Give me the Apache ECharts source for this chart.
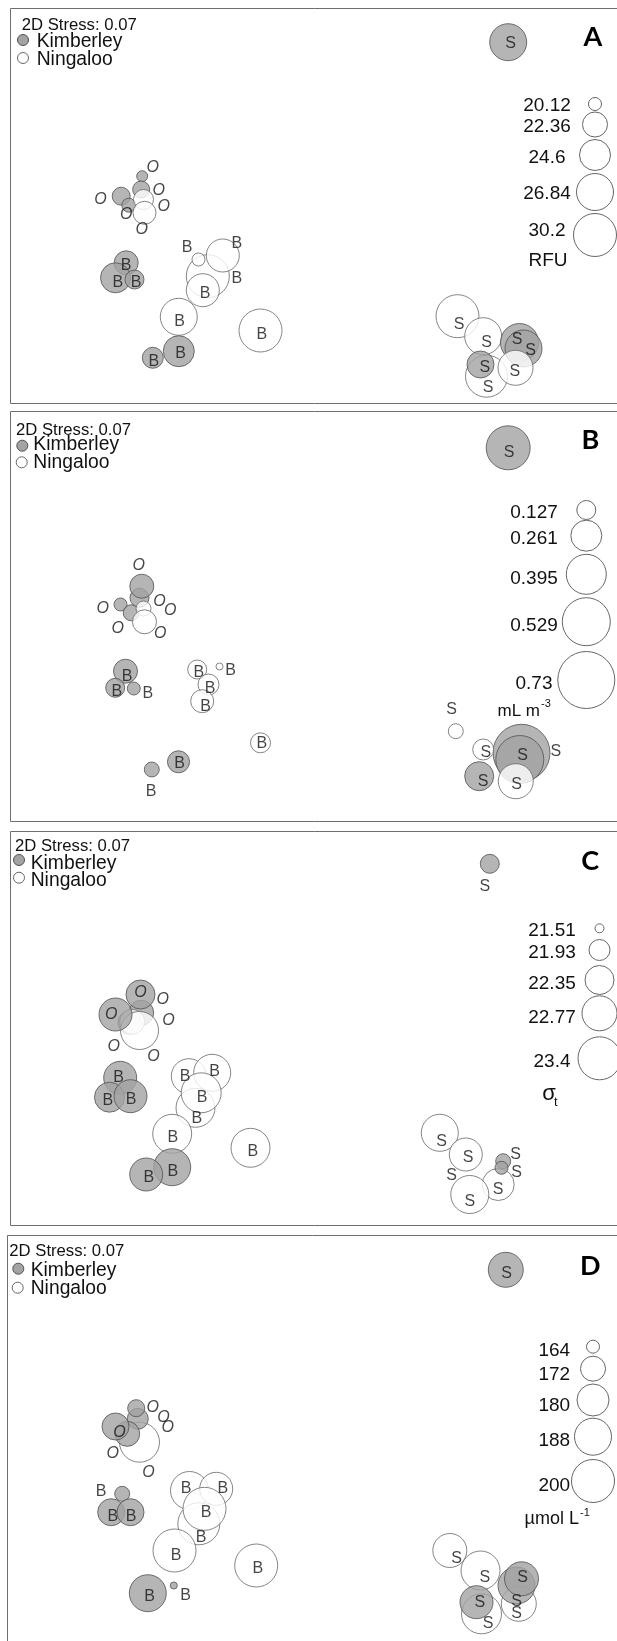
<!DOCTYPE html>
<html><head><meta charset="utf-8">
<script src="https://cdn.jsdelivr.net/npm/echarts@6/dist/echarts.min.js"></script>
<style>html,body{margin:0;padding:0;background:#fff}#c{width:617px;height:1641px}</style>
</head><body><div id="c"></div>
<script>
// ---------- Panel A : chlorophyll fluorescence (RFU) ----------
const aX=[13.17,11.07,13.07,11.83,13.3,13.4,11.57,10.5,12.4,19.73,21.23,19.23,18.8,16.83,25.0,14.23,16.83,49.77,44.7,47.27,47.6,47.0,50.9,51.3,50.5];
const aY=[22.73,20.73,21.40,19.83,20.4,19.07,14.07,12.57,12.4,12.73,14.8,11.33,14.4,8.67,7.3,4.57,5.23,36.13,8.73,6.73,2.73,3.9,6.1,5.5,3.57];
const aV=[19.75,21.05,20.87,20.31,21.43,21.99,22.17,24.23,21.24,30.2,25.35,25.35,20.12,26.84,30.2,21.61,24.6,26.84,30.2,26.84,29.64,23.11,27.4,26.84,26.1];
const aR=['K','K','K','K','N','N','K','K','K','N','N','N','N','N','N','K','K','K','N','N','N','K','K','K','N'];
const aLX=[14.23,9.0,14.83,15.33,11.57,13.13,11.57,10.73,12.57,17.67,22.63,22.63,19.47,16.9,25.13,17.0,14.33,50.0,44.87,47.6,50.67,52.0,47.43,50.43,47.77];
const aLY=[23.57,20.4,21.33,19.67,18.9,17.4,13.83,12.07,12.07,15.57,15.97,12.47,11.0,8.23,6.9,5.0,4.23,35.97,7.9,6.07,6.4,5.33,3.57,3.23,1.57];
const aLT=['O','O','O','O','O','O','B','B','B','B','B','B','B','B','B','B','B','S','S','S','S','S','S','S','S'];
const aLeg=[20.12,22.36,24.6,26.84,30.2];

// ---------- Panel B : biovolume (mL m-3) ----------
const bX=[12.9,13.13,11.0,12.07,13.3,13.4,11.5,10.47,12.33,18.67,20.9,19.8,19.17,25.0,16.8,14.13,49.77,51.1,50.93,46.87,44.53,47.27,50.53];
const bY=[22.37,23.53,21.7,20.87,21.3,19.97,15.03,13.37,13.3,15.2,15.5,13.7,12.03,7.87,5.97,5.2,37.37,6.87,6.2,4.53,9.03,7.2,4.03];
const bV=[0.127,0.183,0.087,0.107,0.100,0.183,0.183,0.127,0.087,0.127,0.047,0.149,0.172,0.138,0.161,0.100,0.462,0.73,0.529,0.239,0.100,0.149,0.321];
const bR=['K','K','K','K','N','N','K','K','K','N','N','N','N','N','K','K','K','K','K','K','N','N','N'];
const bLX=[12.83,9.23,14.9,15.97,10.73,14.97,11.67,10.63,13.73,18.83,22.0,19.97,19.5,25.13,16.9,14.07,49.87,44.1,47.53,51.2,54.53,47.27,50.6];
const bLY=[25.6,21.3,21.97,21.1,19.3,18.77,14.53,12.97,12.77,14.87,15.1,13.3,11.53,7.8,5.77,3.03,36.93,11.2,6.87,6.6,7.03,4.03,3.7];
const bLT=['O','O','O','O','O','O','B','B','B','B','B','B','B','B','B','B','S','S','S','S','S','S','S'];
const bLeg=[0.127,0.261,0.395,0.529,0.73];

// ---------- Panel C : density (sigma-t) ----------
const cX=[13.07,11.9,12.17,12.9,10.5,13.0,10.97,9.9,12.0,17.83,20.17,18.5,19.07,16.17,24.0,16.17,13.57,47.93,42.93,45.53,48.77,45.93,49.27,49.1];
const cY=[21.27,20.3,20.37,19.5,21.1,23.1,14.77,12.83,12.93,14.93,15.27,11.77,13.27,9.17,7.77,5.83,5.1,36.17,9.27,7.1,4.1,3.1,6.43,5.77];
const cV=[22.14,22.04,22.14,23.01,22.63,22.35,22.63,22.42,22.63,22.77,22.93,23.08,23.16,23.08,23.08,22.93,22.63,21.86,22.93,22.63,22.56,23.01,21.72,21.65];
const cR=['K','K','N','N','K','K','K','K','K','N','N','N','N','N','N','K','K','K','N','N','N','N','K','K'];
const cLX=[13.0,10.07,15.23,15.8,10.33,14.3,10.8,9.73,12.07,17.47,20.4,19.17,18.63,16.23,24.23,16.23,13.83,47.43,43.1,45.77,50.5,50.6,44.1,48.77,45.93];
const cLY=[23.27,21.1,22.6,20.5,17.93,16.93,14.77,12.5,12.6,14.93,15.37,12.77,10.7,8.83,7.37,5.43,4.77,33.93,8.43,6.77,7.1,5.27,5.03,3.6,2.43];
const cLT=['O','O','O','O','O','O','B','B','B','B','B','B','B','B','B','B','B','S','S','S','S','S','S','S','S'];
const cLeg=[21.51,21.93,22.35,22.77,23.4];

// ---------- Panel D : (µmol L-1) ----------
const dX=[13.2,13.03,12.87,11.97,10.8,11.47,10.37,12.3,18.2,20.87,19.13,19.7,16.7,24.87,14.03,16.63,49.83,44.23,47.3,47.4,51.13,46.9,50.9,51.4];
const dY=[20.73,23.07,24.13,21.57,22.3,15.57,13.73,13.73,15.9,16.07,12.57,14.07,9.9,8.4,5.63,6.4,37.97,9.9,7.9,3.57,4.57,4.73,6.4,7.07];
const dV=[194,169.3,166.7,172,174.3,165.3,174.3,174.3,190,181.6,198,200,200,200,188,160,184.8,183.2,192,194,184.8,181.6,188,183.2];
const dR=['N','K','K','K','K','K','K','K','N','N','N','N','N','N','K','K','K','N','N','N','N','K','K','K'];
const dLX=[14.53,15.6,16.03,11.2,10.53,14.1,9.37,10.53,12.37,17.87,21.53,19.87,19.37,16.87,25.03,14.2,17.8,49.9,44.9,47.73,51.5,50.9,47.23,50.9,48.07];
const dLY=[24.23,23.23,22.23,21.73,19.57,17.73,15.83,13.33,13.33,16.07,16.07,13.73,11.23,9.4,8.07,5.3,5.4,37.57,9.07,7.23,7.23,4.8,4.67,3.57,2.57];
const dLT=['O','O','O','O','O','O','B','B','B','B','B','B','B','B','B','B','B','S','S','S','S','S','S','S','S'];
const dLeg=[164,172,180,188,200];

// ---------- size scales (value -> bubble diameter, px) ----------
function scaleOf(zero, vals, px){
  const xs=[zero].concat(vals), ys=[0].concat(px);
  return function(v){
    if(v<=xs[0]) return 0;
    for(let i=1;i<xs.length;i++){
      if(v<=xs[i]){const t=(v-xs[i-1])/(xs[i]-xs[i-1]);return ys[i-1]+t*(ys[i]-ys[i-1]);}
    }
    const n=xs.length-1, s=(ys[n]-ys[n-1])/(xs[n]-xs[n-1]);
    return ys[n]+(v-xs[n])*s;
  };
}
const FONT='"Liberation Sans", Arial, sans-serif';
const KSTYLE={color:'#a3a3a3',borderColor:'#505050',borderWidth:1};
const NSTYLE={color:'#ffffff',borderColor:'#666666',borderWidth:1};

// grid: plotting area inside canvas; frame: drawn panel border (right side runs off the page)
const panels=[
 {X:aX,Y:aY,V:aV,R:aR,LX:aLX,LY:aLY,LT:aLT,leg:aLeg,size:scaleOf(17.7,aLeg,[13,25,31,37,43]),
  grid:{left:10.5,top:8.5,width:606,height:395},ymin:0,frame:{l:10.5,t:8.5,b:403.5},
  stress:[21.7,25],km:[23,40],nm:[23,58],kt:[36.7,41.5],nt:[36.7,60],letter:['A',593,37.5],
  lcx:595,lcy:[104,124.5,155,192,235],ltx:547,lty:[106,127,157.5,193.5,230.5],
  unit:[{t:'RFU',x:548,y:261,fs:19,al:'center'}]},
 {X:bX,Y:bY,V:bV,R:bR,LX:bLX,LY:bLY,LT:bLT,leg:bLeg,size:scaleOf(0,bLeg,[19,31,40,48,57]),
  grid:{left:10.5,top:411.5,width:606,height:410},ymin:0,frame:{l:10.5,t:411.5,b:821.5},
  stress:[16,430],km:[22.3,445.7],nm:[21.7,462.3],kt:[33.3,445],nt:[33.3,462.8],letter:['B',590.3,440],
  lcx:586.3,lcy:[510,535.7,574.3,621.7,680],ltx:534,lty:[512.3,539,579,625.7,683.3],
  unit:[{t:'mL m',x:540,y:711,fs:17,al:'right'},{t:'-3',x:541,y:704,fs:11,al:'left'}]},
 {X:cX,Y:cY,V:cV,R:cR,LX:cLX,LY:cLY,LT:cLT,leg:cLeg,size:scaleOf(21.195,cLeg,[9,21,29,35,43]),
  grid:{left:10.5,top:831.5,width:606,height:394},ymin:0,frame:{l:10.5,t:831.5,b:1225.5},
  stress:[15,846.7],km:[19,860],nm:[19,877.7],kt:[30.7,863.3],nt:[30.7,881],letter:['C',590.3,861.7],
  lcx:599.5,lcy:[928.3,950,980,1013.3,1058.3],ltx:552,lty:[931,952.7,983.3,1017.3,1061.7],
  unit:[{t:'σ',x:549,y:1094,fs:22,al:'center'},{t:'t',x:554,y:1102,fs:13,al:'left'}]},
 {X:dX,Y:dY,V:dV,R:dR,LX:dLX,LY:dLY,LT:dLT,leg:dLeg,size:scaleOf(155.3,dLeg,[13,25,32,37,43]),
  grid:{left:7.5,top:1235.5,width:609,height:405},ymin:0.9,frame:{l:7.5,t:1235.5,b:null},
  stress:[9.3,1251],km:[18.3,1268.7],nm:[17.7,1287.7],kt:[30.7,1270.5],nt:[30.7,1289],letter:['D',590.3,1266],
  lcx:593,lcy:[1346.7,1368.7,1400,1436.7,1481],ltx:554.3,lty:[1351,1374.3,1406,1441,1485.3],
  unit:[{t:'µmol L',x:579,y:1519.5,fs:18,al:'right'},{t:'-1',x:580,y:1512.5,fs:11,al:'left'}]}
];

const grids=[],xAxes=[],yAxes=[],series=[],gfx=[];
function txt(t,x,y,fs,al,extra){
  return Object.assign({type:'text',silent:true,style:{text:t,x:x,y:y,font:fs+'px '+FONT,fill:'#111',
    align:al,verticalAlign:'middle',textAlign:al,textVerticalAlign:'middle'}},extra||{});
}
panels.forEach(function(p,i){
  grids.push(Object.assign({show:false,containLabel:false},p.grid));
  xAxes.push({gridIndex:i,type:'value',min:0,max:p.grid.width/10,show:false});
  yAxes.push({gridIndex:i,type:'value',min:p.ymin,max:p.ymin+p.grid.height/10,show:false});
  const pts=p.X.map(function(x,k){return {value:[x,p.Y[k],p.V[k]],itemStyle:p.R[k]==='K'?KSTYLE:NSTYLE};});
  const sz=p.size;
  series.push({type:'scatter',xAxisIndex:i,yAxisIndex:i,silent:true,animation:false,
    symbolSize:function(v){return sz(v[2]);},data:pts,z:2});
  const lbs=p.LX.map(function(x,k){return {value:[x,p.LY[k]],name:p.LT[k],
    label:{fontStyle:p.LT[k]==='O'?'italic':'normal'}};});
  series.push({type:'scatter',xAxisIndex:i,yAxisIndex:i,silent:true,animation:false,symbolSize:1,
    itemStyle:{color:'rgba(0,0,0,0)',borderWidth:0},z:3,data:lbs,
    label:{show:true,position:'inside',formatter:'{b}',color:'#151515',fontSize:16,fontFamily:FONT}});
  // panel frame (open on the right, D also open at bottom)
  const f=p.frame, pl=[[630,f.t],[f.l,f.t]];
  if(f.b===null){pl.push([f.l,1660]);} else {pl.push([f.l,f.b]);pl.push([630,f.b]);}
  gfx.push({type:'polyline',silent:true,shape:{points:pl},style:{stroke:'#6e6e6e',lineWidth:1,fill:null}});
  // legend (top-left)
  gfx.push(txt('2D Stress: 0.07',p.stress[0],p.stress[1],16.7,'left'));
  gfx.push({type:'circle',silent:true,shape:{cx:p.km[0],cy:p.km[1],r:5.5},style:{fill:KSTYLE.color,stroke:'#505050',lineWidth:1}});
  gfx.push({type:'circle',silent:true,shape:{cx:p.nm[0],cy:p.nm[1],r:5.5},style:{fill:'#fff',stroke:'#666',lineWidth:1}});
  gfx.push(txt('Kimberley',p.kt[0],p.kt[1],19.3,'left'));
  gfx.push(txt('Ningaloo',p.nt[0],p.nt[1],19.3,'left'));
  // panel letter
  gfx.push({type:'text',silent:true,style:{text:p.letter[0],x:p.letter[1],y:p.letter[2],
    font:'bold 27px Lato, "Liberation Sans", sans-serif',fill:'#000',align:'center',verticalAlign:'middle',
    textAlign:'center',textVerticalAlign:'middle'}});
  // size legend
  p.leg.forEach(function(v,k){
    gfx.push({type:'circle',silent:true,shape:{cx:p.lcx,cy:p.lcy[k],r:sz(v)/2},style:{fill:'#fff',stroke:'#666',lineWidth:1}});
    gfx.push(txt(String(v),p.ltx,p.lty[k],19,'center'));
  });
  p.unit.forEach(function(u){gfx.push(txt(u.t,u.x,u.y,u.fs,u.al));});
});

const chart=echarts.init(document.getElementById('c'),null,{renderer:'canvas'});
chart.setOption({animation:false,grid:grids,xAxis:xAxes,yAxis:yAxes,series:series,graphic:{elements:gfx}});
</script></body></html>
